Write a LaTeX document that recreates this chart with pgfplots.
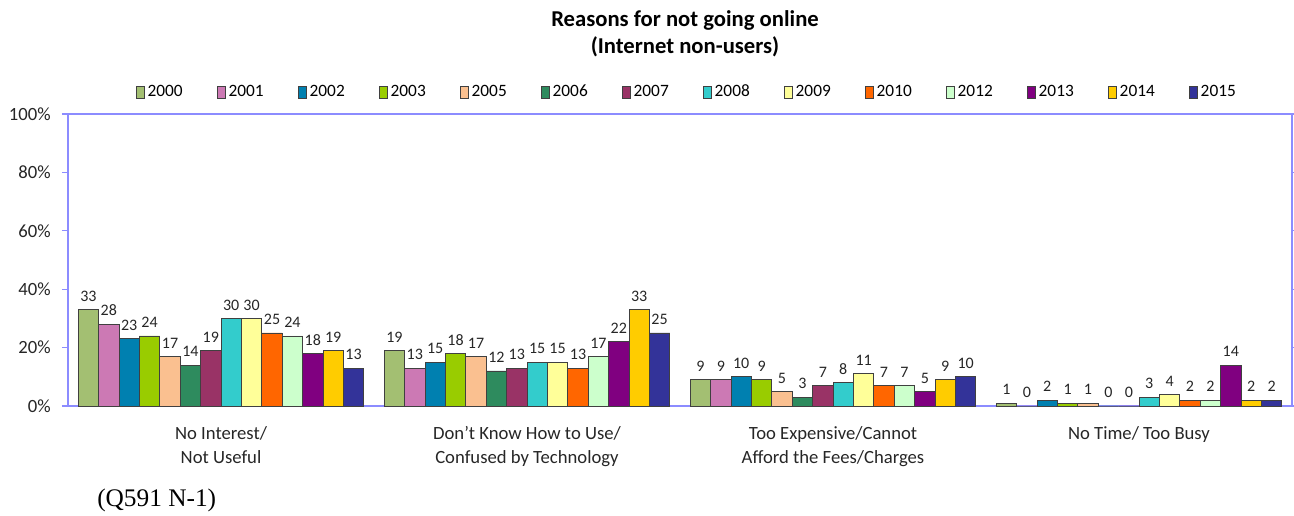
\documentclass[border=0pt]{standalone}
\usepackage{pgfplots}
\pgfplotsset{compat=1.18}
\usepackage{fontspec}
\setmainfont{Carlito}
\newfontfamily\footfont{Liberation Serif}
\definecolor{c2000}{HTML}{A3BF72}
\definecolor{c2001}{HTML}{CC79B4}
\definecolor{c2002}{HTML}{0080B0}
\definecolor{c2003}{HTML}{99CC00}
\definecolor{c2005}{HTML}{FAC090}
\definecolor{c2006}{HTML}{2E8B5E}
\definecolor{c2007}{HTML}{993366}
\definecolor{c2008}{HTML}{33CCCC}
\definecolor{c2009}{HTML}{FFFF99}
\definecolor{c2010}{HTML}{FF6600}
\definecolor{c2012}{HTML}{CCFFCC}
\definecolor{c2013}{HTML}{800080}
\definecolor{c2014}{HTML}{FFCC00}
\definecolor{c2015}{HTML}{333399}
\definecolor{axblue}{HTML}{8C8CFF}
\begin{document}
\begin{tikzpicture}
\useasboundingbox (-51pt,-82.5pt) rectangle (919.5pt,304.5pt);
\begin{axis}[
  scale only axis,
  width=918pt, height=219pt,
  ybar=0pt, bar width=15.3pt,
  xmin=-0.5, xmax=3.5,
  ymin=0, ymax=100,
  /pgf/number format/assume math mode=true,
  xtick={0,1,2,3},
  xticklabels={{No Interest/\\Not Useful},{Don't Know How to Use/\\Confused by Technology},{Too Expensive/Cannot\\Afford the Fees/Charges},{No Time/ Too Busy}},
  xticklabel style={align=center, font=\fontsize{14}{18}\selectfont, text=black!85, yshift=-7.5pt},
  x tick style={draw=none},
  ytick={0,20,40,60,80,100},
  yticklabels={0\%,20\%,40\%,60\%,80\%,100\%},
  yticklabel style={font=\fontsize{14}{17}\selectfont, text=black!85, xshift=-5pt},
  y tick style={axblue, line width=0.8pt},
  tick align=outside, major tick length=4.5pt,
  axis line style={axblue, line width=0.9pt},
  nodes near coords,
  every node near coord/.append style={font=\fontsize{12}{14}\selectfont, text=black!85, yshift=2.5pt},
  legend columns=14,
  legend style={at={(0.506,1)}, anchor=center, yshift=16.5pt, draw=none, fill=none,
    font=\fontsize{13}{15}\selectfont, /tikz/every even column/.append style={column sep=23.8pt}},
  legend image code/.code={\draw[#1, line width=0.6pt] (0pt,-4.5pt) rectangle (6pt,4.5pt);},
  clip=false,
]
\pgfplotsset{every axis plot/.append style={draw=black!75, line width=0.6pt}}
\addplot[fill=c2000] coordinates {(0,33) (1,19) (2,9) (3,1)};
\addplot[fill=c2001] coordinates {(0,28) (1,13) (2,9) (3,0)};
\addplot[fill=c2002] coordinates {(0,23) (1,15) (2,10) (3,2)};
\addplot[fill=c2003] coordinates {(0,24) (1,18) (2,9) (3,1)};
\addplot[fill=c2005] coordinates {(0,17) (1,17) (2,5) (3,1)};
\addplot[fill=c2006] coordinates {(0,14) (1,12) (2,3) (3,0)};
\addplot[fill=c2007] coordinates {(0,19) (1,13) (2,7) (3,0)};
\addplot[fill=c2008] coordinates {(0,30) (1,15) (2,8) (3,3)};
\addplot[fill=c2009] coordinates {(0,30) (1,15) (2,11) (3,4)};
\addplot[fill=c2010] coordinates {(0,25) (1,13) (2,7) (3,2)};
\addplot[fill=c2012] coordinates {(0,24) (1,17) (2,7) (3,2)};
\addplot[fill=c2013] coordinates {(0,18) (1,22) (2,5) (3,14)};
\addplot[fill=c2014] coordinates {(0,19) (1,33) (2,9) (3,2)};
\addplot[fill=c2015] coordinates {(0,13) (1,25) (2,10) (3,2)};
\legend{2000,2001,2002,2003,2005,2006,2007,2008,2009,2010,2012,2013,2014,2015}
\end{axis}
\node[font=\bfseries\fontsize{17}{20.5}\selectfont, align=center] at (462.75pt,279.4pt) {Reasons for not going online\\(Internet non-users)};
\node[font=\footfont\fontsize{19}{21}\selectfont, anchor=west, inner sep=0pt] at (21.75pt,-70.5pt) {(Q591 N-1)};
\end{tikzpicture}
\end{document}
